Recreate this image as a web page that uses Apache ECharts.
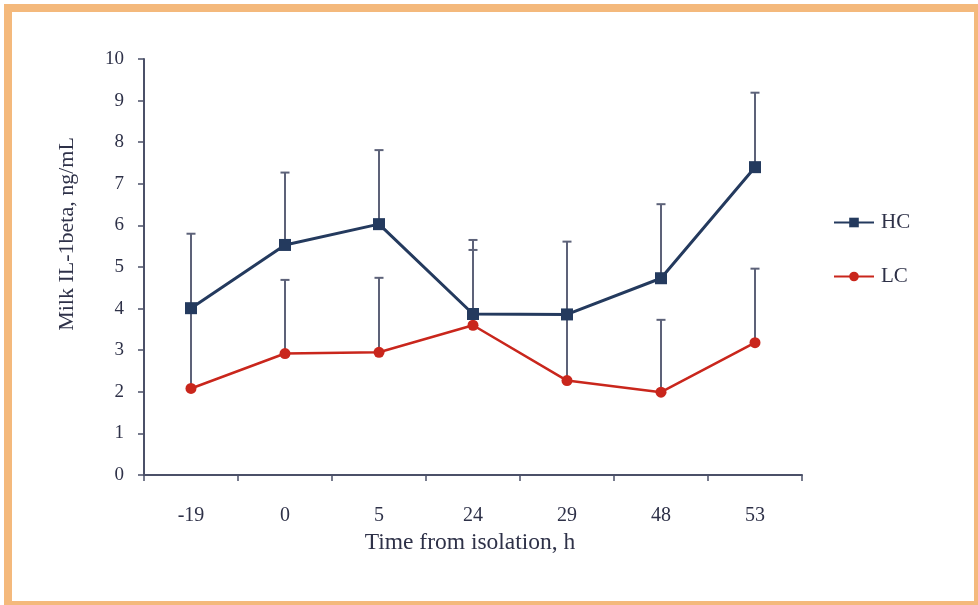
<!DOCTYPE html>
<html>
<head>
<meta charset="utf-8">
<script src="https://cdn.jsdelivr.net/npm/echarts@6/dist/echarts.min.js"></script>
<style>
  html, body { margin: 0; padding: 0; width: 978px; height: 605px; overflow: hidden; background: #ffffff; }
  #frame {
    position: absolute; left: 4px; top: 4px; width: 978px; height: 605px;
    box-sizing: border-box; border: 8px solid #f4b97c; background: #ffffff;
  }
  #chart { position: absolute; left: 0; top: 0; width: 978px; height: 605px; }
</style>
</head>
<body>
<div id="frame"></div>
<div id="chart"></div>
<script>
// Sampling times (h from isolation)
const categories = ['-19', '0', '5', '24', '29', '48', '53'];

// Mean milk IL-1beta, ng/mL
const hcMean = [4.01, 5.53, 6.03, 3.87, 3.86, 4.73, 7.40];
const lcMean = [2.08, 2.92, 2.95, 3.60, 2.27, 1.99, 3.18];

// Upper end of the SE bars
const hcUpper = [5.80, 7.27, 7.81, 5.65, 5.61, 6.51, 9.19];
const lcUpper = [4.00, 4.69, 4.74, 5.41, 3.86, 3.73, 4.96];

const yTicks = [0, 1, 2, 3, 4, 5, 6, 7, 8, 9, 10];

const axisColor = '#4b5068';
const textColor = '#2e3148';
const fontFamily = '"Liberation Serif", "DejaVu Serif", serif';

function errorData(mean, upper) {
  return mean.map((m, i) => [i, m, upper[i]]);
}

function renderError(params, api) {
  const x = api.value(0);
  const lo = api.coord([x, api.value(1)]);
  const hi = api.coord([x, api.value(2)]);
  const half = 4.5;
  const style = { stroke: '#5d6279', lineWidth: 2 };
  return {
    type: 'group',
    children: [
      { type: 'line', shape: { x1: lo[0], y1: lo[1], x2: hi[0], y2: hi[1] }, style: style },
      { type: 'line', shape: { x1: hi[0] - half, y1: hi[1], x2: hi[0] + half, y2: hi[1] }, style: style }
    ]
  };
}

const chart = echarts.init(document.getElementById('chart'), null, { renderer: 'canvas' });

chart.setOption({
  backgroundColor: 'transparent',
  animation: false,
  textStyle: { fontFamily: fontFamily },
  grid: { left: 144, right: 176, top: 59, bottom: 130 },
  legend: {
    orient: 'vertical',
    left: 833,
    top: 212,
    padding: 0,
    itemGap: 33,
    itemWidth: 40,
    itemHeight: 12,
    data: ['HC', 'LC'],
    textStyle: { fontFamily: fontFamily, fontSize: 21, color: textColor, padding: [0, 0, 0, 2] }
  },
  xAxis: {
    type: 'category',
    data: categories,
    boundaryGap: true,
    name: 'Time from isolation, h',
    nameLocation: 'middle',
    nameGap: 54,
    nameTextStyle: { fontFamily: fontFamily, fontSize: 23.5, color: textColor, padding: [0, 6, 0, 0] },
    axisLine: { lineStyle: { color: axisColor, width: 2 } },
    axisTick: { show: true, alignWithLabel: false, length: 6, lineStyle: { color: axisColor, width: 1.5 } },
    axisLabel: { margin: 31, fontFamily: fontFamily, fontSize: 20, color: textColor },
    splitLine: { show: false }
  },
  yAxis: {
    type: 'value',
    min: yTicks[0],
    max: yTicks[yTicks.length - 1],
    interval: 1,
    name: 'Milk IL-1beta, ng/mL',
    nameLocation: 'middle',
    nameGap: 66,
    nameRotate: 90,
    nameTextStyle: { fontFamily: fontFamily, fontSize: 22, color: textColor, padding: [0, 0, 0, 66] },
    axisLine: { show: true, lineStyle: { color: axisColor, width: 2 } },
    axisTick: { show: true, length: 6, lineStyle: { color: axisColor, width: 1.5 } },
    axisLabel: { margin: 20, fontFamily: fontFamily, fontSize: 19, color: textColor },
    splitLine: { show: false }
  },
  series: [
    {
      name: 'LC error',
      type: 'custom',
      renderItem: renderError,
      data: errorData(lcMean, lcUpper),
      encode: { x: 0, y: [1, 2] },
      z: 1,
      silent: true
    },
    {
      name: 'HC error',
      type: 'custom',
      renderItem: renderError,
      data: errorData(hcMean, hcUpper),
      encode: { x: 0, y: [1, 2] },
      z: 1,
      silent: true
    },
    {
      name: 'LC',
      type: 'line',
      data: lcMean,
      symbol: 'circle',
      symbolSize: 11,
      z: 3,
      lineStyle: { color: '#c9261c', width: 2.5 },
      itemStyle: { color: '#c9261c' }
    },
    {
      name: 'HC',
      type: 'line',
      data: hcMean,
      symbol: 'rect',
      symbolSize: 12,
      z: 4,
      lineStyle: { color: '#243a5e', width: 3 },
      itemStyle: { color: '#243a5e' }
    }
  ]
});
</script>
</body>
</html>
